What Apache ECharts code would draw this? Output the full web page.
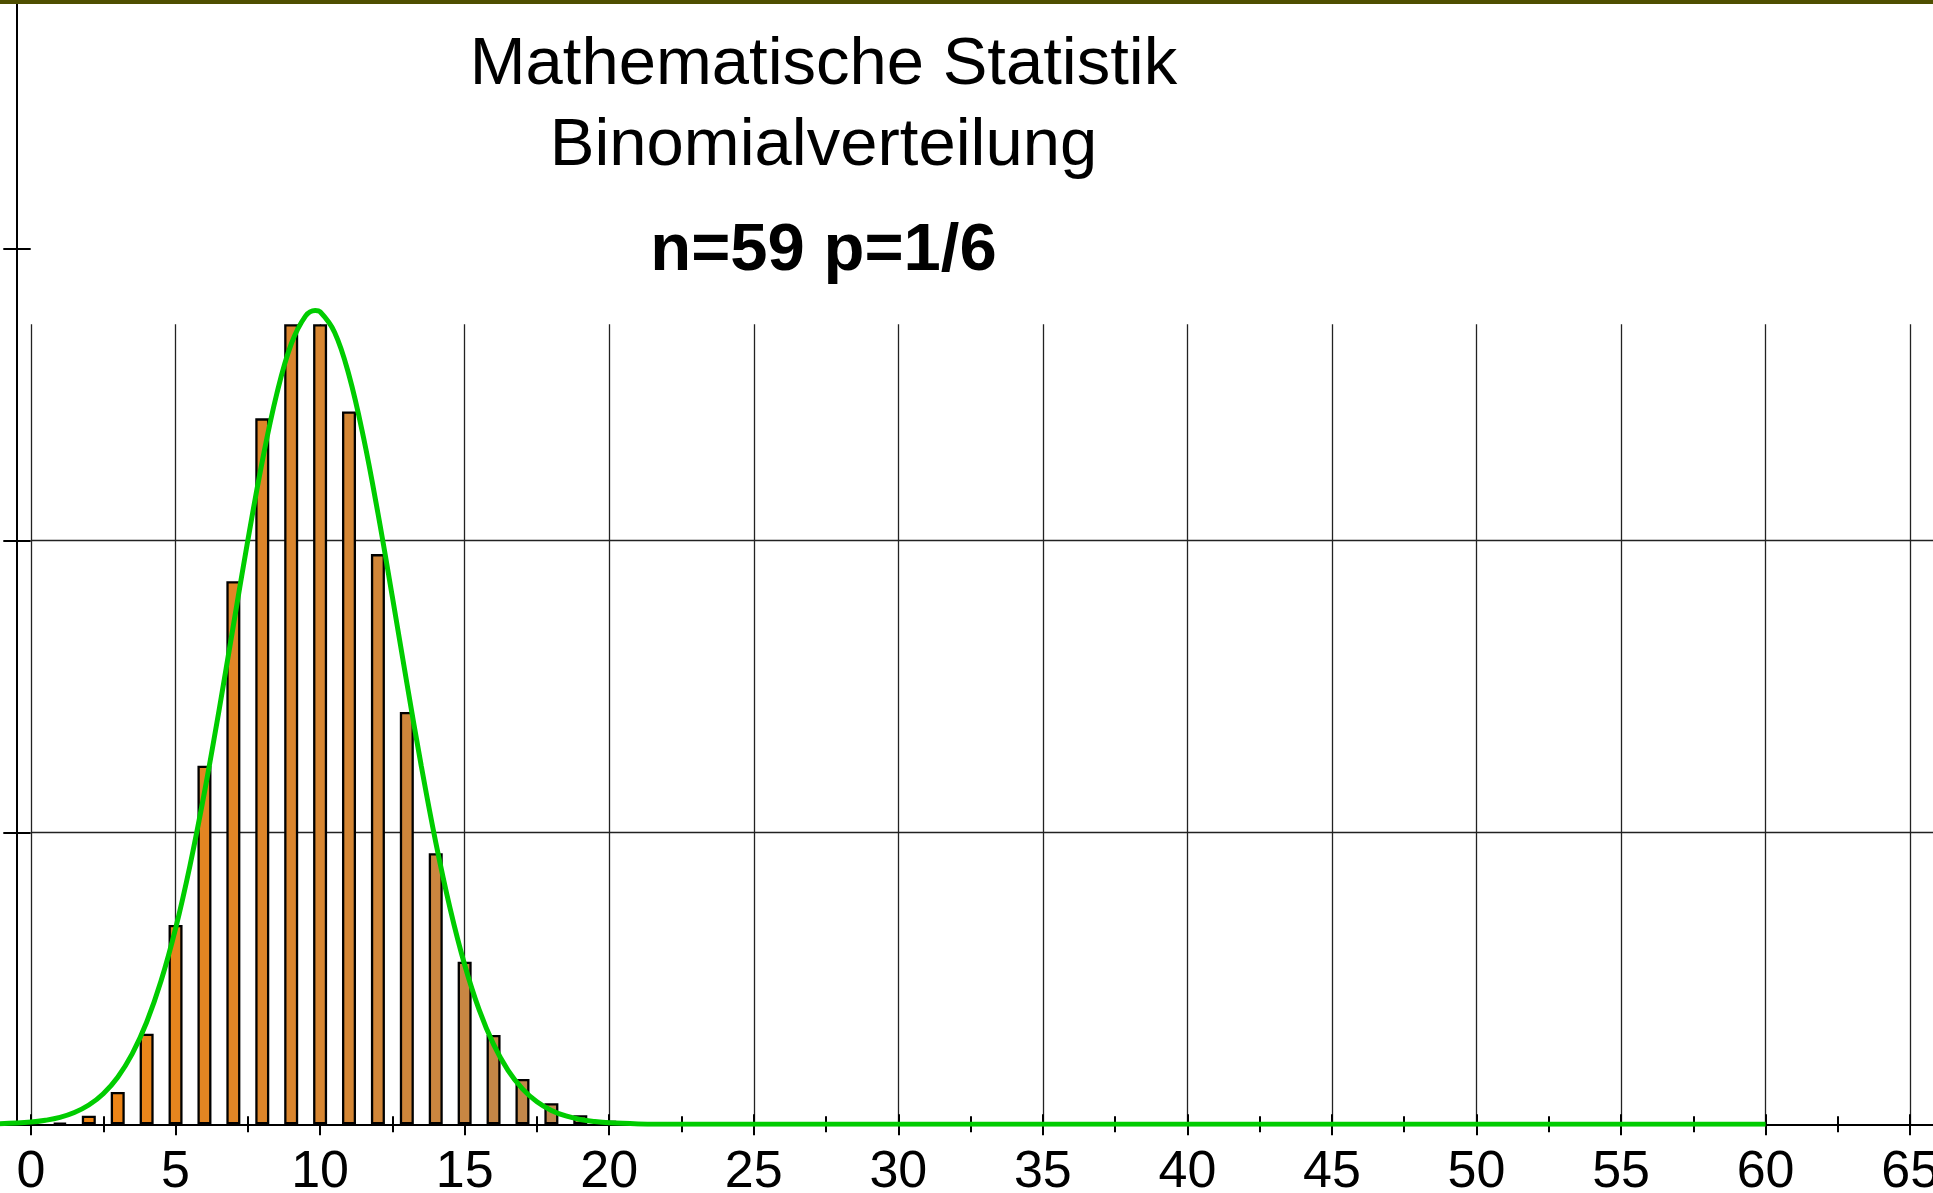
<!DOCTYPE html>
<html>
<head>
<meta charset="utf-8">
<title>Binomialverteilung n=59 p=1/6</title>
<script src="https://cdn.jsdelivr.net/npm/echarts@6/dist/echarts.min.js"></script>
<style>
  html, body { margin: 0; padding: 0; background: #ffffff; }
  #chart { width: 1933px; height: 1193px; }
</style>
</head>
<body>
<div id="chart"></div>
<script>
// Anzahl der Erfolge k
const successes = [0, 1, 2, 3, 4, 5, 6, 7, 8, 9, 10, 11, 12, 13, 14, 15, 16, 17, 18, 19, 20, 21, 22, 23];
// P(X = k) für n = 59, p = 1/6
const probabilities = [
  0.00002, 0.00025, 0.00146, 0.00554, 0.01551, 0.03412, 0.06141, 0.09299,
  0.12088, 0.13700, 0.13700, 0.12205, 0.09764, 0.07060, 0.04640, 0.02784,
  0.01531, 0.00775, 0.00362, 0.00156, 0.00062, 0.00023, 0.00008, 0.00003
];

// Näherungskurve (Normalverteilung) – Stützstellen
const curveX = [
  -1.1, 0, 0.5, 1, 1.5, 2, 2.5, 3, 3.5, 4, 4.5, 5, 5.5, 6, 6.5, 7, 7.5, 8, 8.5, 9, 9.5,
  9.83, 10, 10.5, 11, 11.5, 12, 12.5, 13, 13.5, 14, 14.5, 15, 15.5, 16, 16.5, 17, 17.5,
  18, 18.5, 19, 19.5, 20, 21, 22, 23, 30, 40, 50, 60
];
const curveY = [
  0.00009, 0.00038, 0.00069, 0.00119, 0.00202, 0.00330, 0.00524, 0.00807, 0.01206,
  0.01748, 0.02458, 0.03351, 0.04433, 0.05686, 0.07076, 0.08541, 0.09998, 0.11354,
  0.12505, 0.13359, 0.13843, 0.13937, 0.13913, 0.13564, 0.12826, 0.11763, 0.10465,
  0.09030, 0.07558, 0.06136, 0.04831, 0.03690, 0.02733, 0.01964, 0.01369, 0.00925,
  0.00607, 0.00386, 0.00238, 0.00143, 0.00083, 0.00047, 0.00025, 0.00007, 0.00002,
  0, 0, 0, 0, 0
];

// horizontale Hilfslinien
const gridLevels = [0.05, 0.10];
const titleLines = ['Mathematische Statistik', 'Binomialverteilung'];
const paramLine = 'n=59 p=1/6';

// --- Layout ---
const W = 1933, H = 1193;
const baseY = 1124.3;        // Pixelzeile der x-Achse
const zeroX = 31;            // Pixelspalte von x = 0
const pxPerX = 28.91;        // Pixel je Einheit auf der x-Achse
const pxPerY = 5840;         // Pixel je Einheit auf der y-Achse
const xEnd = 65;
const yTop = 0.2;
const peak = Math.max(...probabilities);

const frameXMin = -zeroX / pxPerX;
const frameXMax = (W - zeroX) / pxPerX;
const frameTop = baseY - yTop * pxPerY;
const frameBottom = H - baseY;
const plotTop = baseY - peak * pxPerY;
const yAxisX = 17;

const FONT = '"Liberation Sans", Arial, Helvetica, sans-serif';

// Farbverlauf der Säulen von Orange nach Braun
const barStart = [245, 132, 12];
const barEnd = [185, 135, 85];
function barColor(k) {
  const t = Math.min(1, Math.max(0, k / 20));
  const c = barStart.map((s, i) => Math.round(s + (barEnd[i] - s) * t));
  return 'rgb(' + c.join(',') + ')';
}

const tickStyle = { color: '#000', width: 2 };
const gridLineStyle = { color: '#222', width: 1.3, type: 'solid' };

const chart = echarts.init(document.getElementById('chart'), null, { renderer: 'canvas' });

chart.setOption({
  animation: false,
  backgroundColor: '#ffffff',
  grid: [
    { left: 0, right: 0, top: frameTop, bottom: frameBottom, outerBoundsMode: 'none', containLabel: false },
    { left: zeroX, width: xEnd * pxPerX, top: plotTop, bottom: frameBottom, outerBoundsMode: 'none', containLabel: false },
    { left: yAxisX, right: 0, top: frameTop, bottom: frameBottom, outerBoundsMode: 'none', containLabel: false }
  ],
  xAxis: [
    {
      gridIndex: 0, type: 'value', position: 'bottom', min: frameXMin, max: frameXMax,
      axisLine: { show: true, onZero: false, lineStyle: { color: '#000', width: 2 } },
      axisTick: { show: false }, axisLabel: { show: false }, splitLine: { show: false }
    },
    {
      gridIndex: 1, type: 'value', position: 'bottom', min: 0, max: xEnd, interval: 5,
      axisLine: { show: false, onZero: false },
      axisTick: { show: true, length: 11, lineStyle: tickStyle },
      minorTick: { show: true, splitNumber: 2, length: 8, lineStyle: tickStyle },
      axisLabel: { show: true, margin: 22, fontSize: 52, fontFamily: FONT, color: '#000' },
      splitLine: { show: true, lineStyle: gridLineStyle },
      minorSplitLine: { show: false }
    },
    {
      gridIndex: 1, type: 'value', position: 'bottom', min: 0, max: xEnd, interval: 5,
      axisLine: { show: false, onZero: false },
      axisTick: { show: true, inside: true, length: 10, lineStyle: tickStyle },
      minorTick: { show: true, splitNumber: 2, length: 8, lineStyle: tickStyle },
      axisLabel: { show: false }, splitLine: { show: false }
    },
    { gridIndex: 2, type: 'value', position: 'bottom', min: 0, max: 1, show: false }
  ],
  yAxis: [
    { gridIndex: 0, type: 'value', min: 0, max: yTop, show: false },
    { gridIndex: 1, type: 'value', min: 0, max: peak, show: false },
    {
      gridIndex: 2, type: 'value', position: 'left', min: 0, max: yTop, interval: 0.05,
      axisLine: { show: true, onZero: false, lineStyle: { color: '#000', width: 2 } },
      axisTick: { show: true, length: 13.7, lineStyle: tickStyle },
      axisLabel: { show: false }, splitLine: { show: false }
    },
    {
      gridIndex: 2, type: 'value', position: 'left', min: 0, max: yTop, interval: 0.05,
      axisLine: { show: false, onZero: false },
      axisTick: { show: true, inside: true, length: 13.7, lineStyle: tickStyle },
      axisLabel: { show: false }, splitLine: { show: false }
    }
  ],
  series: [
    {
      name: 'P(X=k)',
      type: 'bar',
      xAxisIndex: 1, yAxisIndex: 1,
      barWidth: 14,
      z: 2,
      data: successes.map((k, i) => [k, probabilities[i]]),
      itemStyle: {
        color: (p) => barColor(p.value[0]),
        borderColor: '#000',
        borderWidth: 2.3
      },
      emphasis: { disabled: true }
    },
    {
      name: 'Normalverteilung',
      type: 'line',
      xAxisIndex: 0, yAxisIndex: 0,
      z: 3,
      smooth: 0.4,
      showSymbol: false,
      data: curveX.map((x, i) => [x, curveY[i]]),
      lineStyle: { color: '#00cc00', width: 5 },
      emphasis: { disabled: true },
      markLine: {
        z: 1,
        silent: true,
        symbol: 'none',
        label: { show: false },
        lineStyle: gridLineStyle,
        emphasis: { disabled: true },
        data: gridLevels.map((v) => [{ coord: [0, v] }, { coord: [frameXMax, v] }])
      }
    }
  ],
  graphic: [
    { type: 'rect', z: 100, shape: { x: 0, y: 0, width: W, height: 4 }, style: { fill: '#4f4f00' } },
    {
      type: 'text', x: 823.5, y: 66, z: 100,
      style: { text: titleLines[0], font: '67px ' + FONT, fill: '#000',
               align: 'center', verticalAlign: 'middle', textAlign: 'center', textVerticalAlign: 'middle' }
    },
    {
      type: 'text', x: 823.5, y: 147, z: 100,
      style: { text: titleLines[1], font: '67px ' + FONT, fill: '#000',
               align: 'center', verticalAlign: 'middle', textAlign: 'center', textVerticalAlign: 'middle' }
    },
    {
      type: 'text', x: 823.5, y: 252, z: 100,
      style: { text: paramLine, font: 'bold 67px ' + FONT, fill: '#000',
               align: 'center', verticalAlign: 'middle', textAlign: 'center', textVerticalAlign: 'middle' }
    }
  ]
});
</script>
</body>
</html>
